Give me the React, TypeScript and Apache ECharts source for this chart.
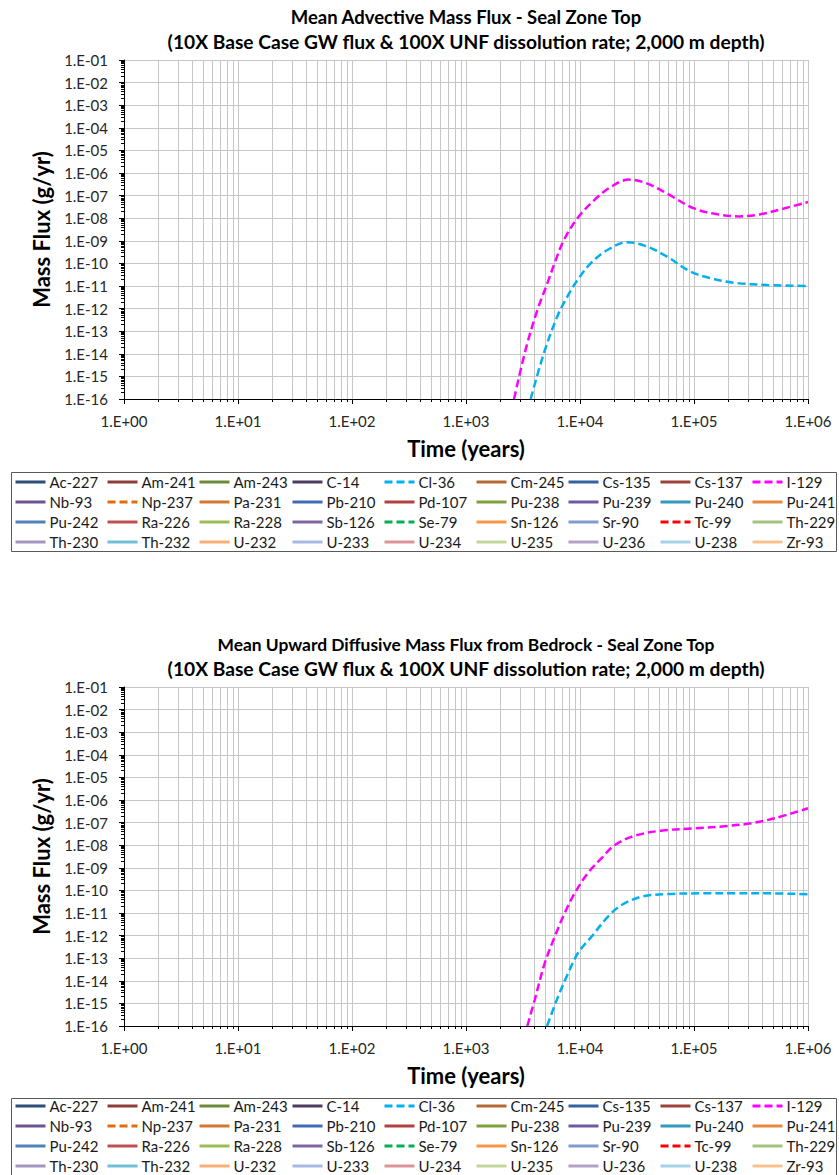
import React, { useEffect, useRef } from "react";
import * as echarts from "echarts";

// ---------------- DATA ----------------
const NUCLIDES = [
  "Ac-227", "Am-241", "Am-243", "C-14", "Cl-36", "Cm-245", "Cs-135", "Cs-137", "I-129",
  "Nb-93", "Np-237", "Pa-231", "Pb-210", "Pd-107", "Pu-238", "Pu-239", "Pu-240", "Pu-241",
  "Pu-242", "Ra-226", "Ra-228", "Sb-126", "Se-79", "Sn-126", "Sr-90", "Tc-99", "Th-229",
  "Th-230", "Th-232", "U-232", "U-233", "U-234", "U-235", "U-236", "U-238", "Zr-93",
];
const COLORS = [
  "#2C4D75", "#8E3B3A", "#6A8A3A", "#4D3B62", "#00B0F0", "#B46A35", "#34619F", "#A0403D", "#FF00FF",
  "#6B5490", "#E46C0A", "#D0782F", "#3E6DB5", "#B2413E", "#7EA13E", "#7159A0", "#3399BB", "#E8883A",
  "#4F81BD", "#C0504D", "#9BBB59", "#8064A2", "#00B050", "#F79646", "#7F9CCF", "#FF0000", "#A6C27A",
  "#A495C0", "#6EBFD8", "#F9AE7A", "#A7B9E0", "#D99694", "#C3D69B", "#B3A2C7", "#A5D0E5", "#FAC090",
];
const DASHED = ["Cl-36", "I-129", "Np-237", "Se-79", "Tc-99"];

const TITLES_ADV = [
  "Mean Advective Mass Flux - Seal Zone Top",
  "(10X Base Case GW flux & 100X UNF dissolution rate; 2,000 m depth)",
];
const TITLES_DIF = [
  "Mean Upward Diffusive Mass Flux from Bedrock - Seal Zone Top",
  "(10X Base Case GW flux & 100X UNF dissolution rate; 2,000 m depth)",
];
const X_NAME = "Time (years)";
const Y_NAME = "Mass Flux (g/yr)";

// [time (years), mass flux (g/yr)]
const ADV_I129: [number, number][] = [
  [2640, 1e-16], [3330, 1.5e-14], [4230, 8.7e-13], [5170, 1.3e-11], [6120, 1.4e-10],
  [7240, 1.1e-9], [9480, 9.8e-9], [13280, 6.2e-8], [18590, 2.4e-7], [26900, 5.1e-7],
  [39000, 3.4e-7], [58400, 1.2e-7], [100000, 2.7e-8], [160000, 1.5e-8], [248000, 1.2e-8],
  [385000, 1.5e-8], [616000, 2.7e-8], [1000000, 5.2e-8],
];
const ADV_CL36: [number, number][] = [
  [3690, 1e-16], [4830, 1.1e-14], [6320, 4.5e-13], [7740, 3.4e-12], [9480, 1.8e-11],
  [12400, 1e-10], [17400, 3.9e-10], [26000, 8.7e-10], [39000, 5.5e-10], [58400, 1.95e-10],
  [93500, 4.3e-11], [140000, 2.2e-11], [224000, 1.4e-11], [440000, 1.1e-11], [1000000, 1e-11],
];
const DIF_I129: [number, number][] = [
  [3450, 1e-16], [4000, 1.4e-15], [4900, 5.9e-14], [6000, 8.9e-13], [7330, 9.8e-12],
  [8970, 7.4e-11], [11700, 5.8e-10], [15400, 2.6e-9], [20100, 1.0e-8], [30100, 2.6e-8],
  [51600, 4.4e-8], [101000, 5.6e-8], [198000, 7.1e-8], [317000, 9.3e-8], [508000, 1.55e-7],
  [1000000, 4.3e-7],
];
const DIF_CL36: [number, number][] = [
  [5140, 1e-16], [6420, 2e-15], [7850, 2.1e-14], [9600, 1.7e-13], [12600, 8.9e-13],
  [17600, 6.9e-12], [23000, 2.2e-11], [34400, 5.2e-11], [58900, 6.9e-11], [115000, 7.4e-11],
  [226000, 7.4e-11], [442000, 7.4e-11], [1000000, 6.8e-11],
];

const X_MIN = 1;
const X_MAX = 1e6;
const Y_MIN = 1e-16;
const Y_MAX = 1e-1;

// ---------------- LAYOUT ----------------
const W = 839;
const H = 1175;
const FONT = "Lato, 'Liberation Sans', Arial, sans-serif";
const PLOT_LEFT = 124;
const PLOT_W = 684;
const PLOT_H = 339;
const PANELS = [
  {
    top: 60, titles: TITLES_ADV, titleSizes: [18.5, 19.2],
    data: { "I-129": ADV_I129, "Cl-36": ADV_CL36 } as Record<string, [number, number][]>,
    legendTop: 472, boxTop: 472,
  },
  {
    top: 687, titles: TITLES_DIF, titleSizes: [17.4, 19.2],
    data: { "I-129": DIF_I129, "Cl-36": DIF_CL36 } as Record<string, [number, number][]>,
    legendTop: 1096, boxTop: 1098,
  },
];
const LEGEND_COLS = [14, 106, 198, 291, 383, 475, 567, 659, 751];

function expLabel(v: number): string {
  const e = Math.round(Math.log10(v));
  const s = e < 0 ? "-" : "+";
  const a = Math.abs(e);
  return "1.E" + s + (a < 10 ? "0" + a : String(a));
}

function buildOption() {
  const grid: any[] = [];
  const xAxis: any[] = [];
  const yAxis: any[] = [];
  const series: any[] = [];
  const legend: any[] = [];
  const graphic: any[] = [];
  const gridColor = "#C6C6C6";

  PANELS.forEach((p, g) => {
    grid.push({ left: PLOT_LEFT, top: p.top, width: PLOT_W, height: PLOT_H, containLabel: false });
    xAxis.push({
      type: "log",
      gridIndex: g,
      logBase: 10,
      min: X_MIN,
      max: X_MAX,
      splitNumber: 6,
      axisLine: { show: true, lineStyle: { color: "#000", width: 1 } },
      axisTick: { show: true, length: 5, lineStyle: { color: "#000" } },
      minorTick: { show: true, splitNumber: 9, length: 3, lineStyle: { color: "#000" } },
      splitLine: { show: true, lineStyle: { color: gridColor, width: 1 } },
      minorSplitLine: { show: true, lineStyle: { color: gridColor, width: 1 } },
      axisLabel: {
        formatter: expLabel, interval: 0, margin: 14, color: "#262626",
        fontFamily: FONT, fontSize: 15, hideOverlap: false,
      },
    });
    yAxis.push({
      type: "log",
      gridIndex: g,
      logBase: 10,
      min: Y_MIN,
      max: Y_MAX,
      interval: 1,
      splitNumber: 15,
      axisLine: { show: true, lineStyle: { color: "#000", width: 1 } },
      axisTick: { show: true, length: 5, lineStyle: { color: "#000" } },
      minorTick: { show: true, splitNumber: 9, length: 3, lineStyle: { color: "#000" } },
      splitLine: { show: true, lineStyle: { color: gridColor, width: 1 } },
      minorSplitLine: { show: false },
      axisLabel: {
        formatter: expLabel, interval: 0, margin: 16, color: "#262626",
        fontFamily: FONT, fontSize: 15, hideOverlap: false,
      },
    });

    NUCLIDES.forEach((name, i) => {
      const dashed = DASHED.indexOf(name) >= 0;
      series.push({
        type: "line",
        name,
        xAxisIndex: g,
        yAxisIndex: g,
        data: p.data[name] || [],
        symbol: "none",
        showSymbol: false,
        smooth: 0.35,
        clip: true,
        z: name === "I-129" || name === "Cl-36" ? 5 : 3,
        itemStyle: { color: COLORS[i] },
        lineStyle: { color: COLORS[i], width: 2.5, type: dashed ? [8, 4] : "solid" },
      });
    });

    LEGEND_COLS.forEach((left, c) => {
      legend.push({
        left,
        top: p.legendTop,
        height: 110,
        orient: "vertical",
        itemWidth: 30,
        itemHeight: 14,
        itemGap: 0,
        padding: 0,
        selectedMode: false,
        itemStyle: { opacity: 0, borderWidth: 0 },
        lineStyle: { width: 3 },
        data: [NUCLIDES[c], NUCLIDES[9 + c], NUCLIDES[18 + c], NUCLIDES[27 + c]],
        textStyle: { fontFamily: FONT, fontSize: 15, color: "#1A1A1A", lineHeight: 20, padding: [0, 0, 0, -1] },
      });
    });

    const cx = PLOT_LEFT + PLOT_W / 2;
    graphic.push(
      {
        type: "text", x: cx, y: p.top - 43,
        style: { text: p.titles[0], textAlign: "center", textVerticalAlign: "middle", font: `bold ${p.titleSizes[0]}px ${FONT}`, fill: "#000" },
      },
      {
        type: "text", x: cx, y: p.top - 19,
        style: { text: p.titles[1], textAlign: "center", textVerticalAlign: "middle", font: `bold ${p.titleSizes[1]}px ${FONT}`, fill: "#000" },
      },
      {
        type: "text", x: cx, y: p.top + PLOT_H + 49,
        style: { text: X_NAME, textAlign: "center", textVerticalAlign: "middle", font: `bold 22px ${FONT}`, fill: "#000" },
      },
      {
        type: "text", x: 41, y: p.top + PLOT_H / 2, rotation: Math.PI / 2,
        style: { text: Y_NAME, textAlign: "center", textVerticalAlign: "middle", font: `bold 22px ${FONT}`, fill: "#000" },
      },
      {
        type: "rect", shape: { x: 11.5, y: p.boxTop + 0.5, width: 825, height: 79 },
        style: { fill: "none", stroke: "#5A5A5A", lineWidth: 1 }, z: 1,
      }
    );
  });

  return { animation: false, backgroundColor: "#fff", grid, xAxis, yAxis, series, legend, graphic };
}

export default function App() {
  const ref = useRef<HTMLDivElement | null>(null);
  useEffect(() => {
    document.body.style.margin = "0";
    if (!ref.current) return;
    const chart = echarts.init(ref.current, null, { renderer: "svg", width: W, height: H });
    chart.setOption(buildOption());
    return () => chart.dispose();
  }, []);
  return <div ref={ref} style={{ width: W, height: H }} />;
}
